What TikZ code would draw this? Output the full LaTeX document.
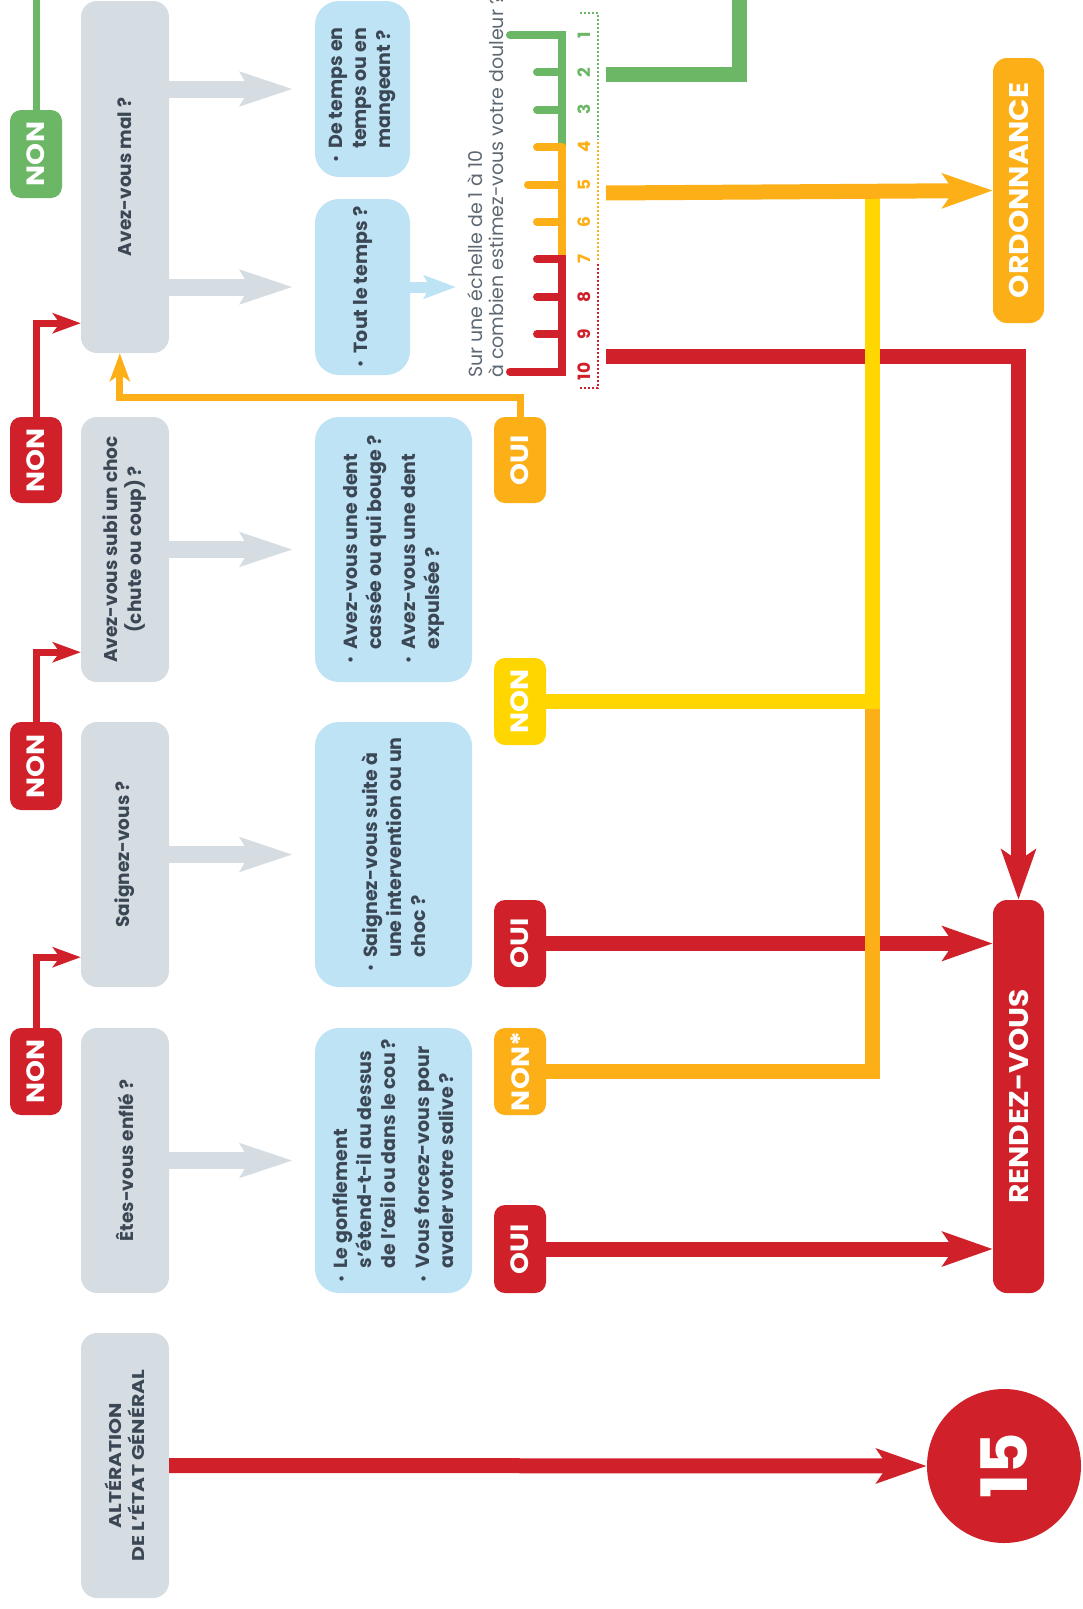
\documentclass[tikz,border=0pt]{standalone}
\usepackage{fontspec}
\setmainfont{Poppins}
\usepackage{graphicx}
\usetikzlibrary{arrows.meta,fit}
\definecolor{cgray}{HTML}{D5DCE2}
\definecolor{cblue}{HTML}{BEE3F5}
\definecolor{cred}{HTML}{D0202A}
\definecolor{corange}{HTML}{FCAF17}
\definecolor{cyellow}{HTML}{FFD600}
\definecolor{cgreen}{HTML}{6BB766}
\definecolor{ctext}{HTML}{3B4754}
\definecolor{cscale}{HTML}{5E6873}
\newcommand\bul{\makebox[14pt][l]{\raisebox{0.15ex}{\scalebox{0.75}{•}}}}
\newcommand\ind{\hspace*{14pt}}
\newcommand\wide[1]{\scalebox{1.12}[1]{#1}}
\begin{document}
\begin{tikzpicture}[x=1pt,y=-1pt,line join=miter,
  gbox/.style={fill=cgray,rounded corners=16pt,inner sep=0pt},
  bbox/.style={fill=cblue,rounded corners=24pt,inner sep=0pt},
  badge/.style={rounded corners=11pt,inner sep=0pt},
  endbox/.style={rounded corners=14pt,inner sep=0pt},
  qtext/.style={rotate=90,align=center,text=ctext,inner sep=0pt,font=\bfseries\fontsize{18.5}{24}\selectfont},
  btext/.style={rotate=90,align=left,text=ctext,inner sep=0pt,font=\bfseries\fontsize{19}{24}\selectfont},
  bdtext/.style={rotate=90,text=white,inner sep=0pt,font=\bfseries\fontsize{25}{25}\selectfont},
  endtext/.style={rotate=90,text=white,inner sep=0pt,font=\bfseries\fontsize{27}{27}\selectfont},
  numtext/.style={rotate=90,inner sep=0pt,font=\bfseries\fontsize{17}{17}\selectfont},
  thinc/.style={line width=7pt},
  thickc/.style={line width=15pt},
  tipS/.style={-{Stealth[length=28pt,width=20pt,inset=7pt]}},
  tipL/.style={-{Stealth[length=50pt,width=34pt,inset=11pt]}},
  garrow/.style={cgray,line width=17pt,-{Stealth[length=52pt,width=33pt,inset=9pt]}},
  barrow/.style={cblue,line width=11pt,-{Stealth[length=32pt,width=23pt,inset=6pt]}},
  tick/.style={line width=8pt,line cap=round},
  dotl/.style={line width=2.2pt,dash pattern=on 2pt off 2pt}
]
\useasboundingbox (0,0) rectangle (1082,1609);

% ---- gray question boxes
\node[gbox,fit={(81,1)(169,353)}] (q1) {};
\node[gbox,fit={(81,417)(169,682)}] (q2) {};
\node[gbox,fit={(81,722)(169,987)}] (q3) {};
\node[gbox,fit={(81,1028)(169,1293)}] (q4) {};
\node[gbox,fit={(81,1333)(169,1598)}] (q5) {};
\node[qtext] (q1t) at (q1) {Avez-vous mal ?};
\node[qtext] (q2t) at (q2) {Avez-vous subi un choc\\(chute ou coup) ?};
\node[qtext] (q3t) at (q3) {Saignez-vous ?};
\node[qtext] (q4t) at (q4) {Êtes-vous enflé ?};
\node[qtext,font=\bfseries\fontsize{17}{23}\selectfont] (q5t) at (q5) {\scalebox{1.2}[1]{ALTÉRATION}\\\scalebox{1.2}[1]{DE L’ÉTAT GÉNÉRAL}};

% ---- blue detail boxes
\node[bbox,fit={(315,1)(410,177)}] (b1a) {};
\node[bbox,fit={(315,199)(410,375)}] (b1b) {};
\node[bbox,fit={(315,417)(472,682)}] (b2) {};
\node[bbox,fit={(315,722)(472,987)}] (b3) {};
\node[bbox,fit={(315,1028)(472,1293)}] (b4) {};
\node[btext] (b1at) at ([yshift=-6pt]b1a.center) {\bul De temps en\\\ind temps ou en\\\ind mangeant ?};
\node[btext] (b1bt) at (b1b) {\bul Tout le temps ?};
\node[btext] (b2t) at (b2) {\bul Avez-vous une dent\\\ind cassée ou qui bouge ?\\[10pt]\bul Avez-vous une dent\\\ind expulsée ?};
\node[btext] (b3t) at (b3) {\bul Saignez-vous suite à\\\ind une intervention ou un\\\ind choc ?};
\node[btext] (b4t) at (b4) {\bul Le gonflement\\\ind s’étend-t-il au dessus\\\ind de l’œil ou dans le cou ?\\[10pt]\bul Vous forcez-vous pour\\\ind avaler votre salive ?};

% ---- gray arrows
\draw[garrow] (q1.east |- b1a.center) -- ([xshift=-22pt]b1a.west);
\draw[garrow] (q1.east |- b1b.center) -- ([xshift=-22pt]b1b.west);
\draw[garrow] (q2.east) -- ([xshift=-22pt]b2.west);
\draw[garrow] (q3.east) -- ([xshift=-22pt]b3.west);
\draw[garrow] (q4.east) -- ([xshift=-22pt]b4.west);
\coordinate (sq) at (456,287);
\draw[barrow] (b1b.east) -- (sq);

% ---- left badges
\node[badge,fill=cgreen,fit={(10,110)(62,198)}] (nG) {};
\node[badge,fill=cred,fit={(10,417)(62,503)}] (n1) {};
\node[badge,fill=cred,fit={(10,722)(62,810)}] (n2) {};
\node[badge,fill=cred,fit={(10,1028)(62,1115)}] (n3) {};
\node[bdtext] (nGt) at (nG) {\wide{NON}};
\node[bdtext] (n1t) at (n1) {\wide{NON}};
\node[bdtext] (n2t) at (n2) {\wide{NON}};
\node[bdtext] (n3t) at (n3) {\wide{NON}};

% ---- middle badges
\node[badge,fill=corange,fit={(494,417)(546,503)}] (o1) {};
\node[badge,fill=cyellow,fit={(494,658)(546,745)}] (y2) {};
\node[badge,fill=cred,fit={(494,900)(546,987)}] (r3) {};
\node[badge,fill=corange,fit={(494,1028)(546,1115)}] (o4) {};
\node[badge,fill=cred,fit={(494,1205)(546,1293)}] (r4) {};
\node[bdtext] (o1t) at (o1) {\wide{OUI}};
\node[bdtext] (y2t) at (y2) {\wide{NON}};
\node[bdtext] (r3t) at (r3) {\wide{OUI}};
\node[bdtext] (o4t) at (o4) {\wide{NON*}};
\node[bdtext] (r4t) at (r4) {\wide{OUI}};

% ---- outcomes
\node[endbox,fill=corange,fit={(993,58)(1044,323)}] (ord) {};
\node[endbox,fill=cred,fit={(993,900)(1044,1293)}] (rdv) {};
\node[endtext] (ordt) at (ord) {\scalebox{1.1}[1]{ORDONNANCE}};
\node[endtext] (rdvt) at (rdv) {\scalebox{1.1}[1]{RENDEZ-VOUS}};
\node[circle,fill=cred,minimum size=154pt,inner sep=0pt] (c15) at (1004,1466) {};
\node[rotate=90,text=white,inner sep=0pt,font=\bfseries\fontsize{64}{64}\selectfont] (c15t) at (c15) {15};

% ---- pain scale
\node[rotate=90,anchor=south west,align=left,text=cscale,inner sep=0pt,font=\fontsize{19}{21}\selectfont] (scq) at (504,378) {Sur une échelle de 1 à 10\\à combien estimez-vous votre douleur ?};
\draw[tick,cgreen] (510,35) -- (562,35) -- (562,147.2);
\draw[tick,cgreen] (537,72.4) -- (562,72.4);
\draw[tick,cgreen] (537,109.8) -- (562,109.8);
\draw[tick,corange] (562,147.2) -- (562,259.4);
\draw[tick,corange] (537,147.2) -- (562,147.2);
\draw[tick,corange] (528,184.6) -- (562,184.6);
\draw[tick,corange] (537,222) -- (562,222);
\draw[tick,cred] (537,259.4) -- (562,259.4) -- (562,371.6) -- (510,371.6);
\draw[tick,cred] (537,296.8) -- (562,296.8);
\draw[tick,cred] (537,334.2) -- (562,334.2);
\foreach \i/\c in {1/cgreen,2/cgreen,3/cgreen,4/corange,5/corange,6/corange,7/corange,8/cred,9/cred,10/cred}{
  \pgfmathsetmacro\yy{35+(\i-1)*37.4}
  \node[numtext,text=\c] (num\i) at (584,\yy) {\i};
}
\draw[dotl,cgreen] (580,13) -- (598,13) -- (598,140);
\draw[dotl,corange] (598,142) -- (598,262);
\draw[dotl,cred] (598,264) -- (598,388) -- (580,388);
\coordinate (sg) at (606,74);
\coordinate (so) at (606,193);
\coordinate (sr) at (606,356);
\coordinate (gtop) at (739,-52);

% ---- connectors
\draw[thinc,cgreen] (nG.north) -- (nG.north |- 0,-20);
\draw[thinc,cred,tipS] (n1.north) |- ([yshift=30pt]q1.south west);
\draw[thinc,cred,tipS] (n2.north) |- ([yshift=30pt]q2.south west);
\draw[thinc,cred,tipS] (n3.north) |- ([yshift=30pt]q3.south west);
\coordinate (qa) at ([xshift=39pt]q1.south west);
\draw[thinc,corange,tipS] (o1.north) |- (qa |- 0,397) -- (qa);

\draw[thickc,cred,tipL] (sr) -| (rdv.north);
\draw[thickc,cred,tipL] (r3.east) -- (rdv.west |- r3.east);
\draw[thickc,cred,tipL] (r4.east) -- (rdv.west |- r4.east);
\draw[thickc,cred,tipL] (q5.east) -- (c15.west);
\coordinate (jn) at (872,702);
\coordinate (jtop) at (872,193);
\draw[thickc,corange] (o4.east) -| (jn);
\draw[thickc,cyellow] (y2.east) -| (jtop);
\draw[thickc,corange,tipL] (so) -- (ord.west);
\draw[thickc,cgreen,tipL] (sg) -| (gtop);
\end{tikzpicture}
\end{document}
